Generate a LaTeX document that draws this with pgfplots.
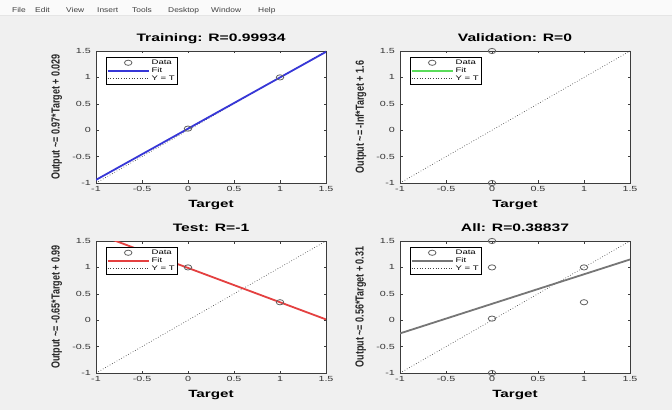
\documentclass[border=0pt]{standalone}
\usepackage{fontspec}
\setmainfont{Liberation Sans}
\usepackage{graphicx}
\usepackage{pgfplots}
\pgfplotsset{compat=1.18}

\definecolor{figbg}{RGB}{240,240,240}
\definecolor{menubg}{RGB}{250,250,250}
\definecolor{fitblue}{RGB}{55,55,215}
\definecolor{fitgreen}{RGB}{90,220,90}
\definecolor{fitred}{RGB}{228,64,64}
\definecolor{fitgray}{RGB}{118,118,118}
\definecolor{axcol}{RGB}{60,60,60}

% screenshot is stretched sideways, so horizontal text is too
\newcommand{\sx}[1]{\scalebox{1.45}[1]{#1}}

\pgfplotsset{
  regplot/.style={
    scale only axis, width=230pt, height=132pt,
    xmin=-1, xmax=1.5, ymin=-1, ymax=1.5,
    xtick={-1,-0.5,0,0.5,1,1.5}, ytick={-1,-0.5,0,0.5,1,1.5},
    xticklabels={-1,-0.5,0,0.5,1,1.5}, yticklabels={-1,-0.5,0,0.5,1,1.5},
    tick align=inside, xtick pos=both, ytick pos=both,
    xticklabel pos=lower, yticklabel pos=left,
    major tick length=2.5pt,
    tick style={axcol, line width=0.5pt},
    axis line style={axcol, line width=0.6pt},
    axis background/.style={fill=white},
    ticklabel style={font=\fontsize{7.4}{8}\selectfont, text=black!80, xscale=1.45},
    title style={at={(axis description cs:0.5,1.03)}, anchor=base,
      font=\fontsize{10.8}{12}\selectfont\bfseries, xscale=1.45},
    xlabel style={at={(axis description cs:0.5,-0.182)}, anchor=base,
      font=\fontsize{10.5}{12}\selectfont\bfseries, xscale=1.45},
    ylabel style={at={(axis description cs:-0.17,0.5)}, anchor=center,
      font=\fontsize{9}{10}\selectfont\bfseries, yscale=1.3, text=black!85},
    xlabel={Target},
    legend style={at={(axis description cs:0.0435,0.955)}, anchor=north west,
      draw=black, line width=0.4pt, fill=white, inner sep=0.6pt, row sep=-2.2pt,
      font=\fontsize{6.6}{7}\selectfont, cells={anchor=west}},
    reverse legend,
  },
  yteq/.style={black!75, line width=0.65pt, dotted,
    legend image code/.code={\draw[##1] (0pt,0pt) -- (41pt,0pt);}},
  fitline/.style={line width=1.8pt, #1,
    legend image code/.code={\draw[##1] (0pt,0pt) -- (41pt,0pt);}},
  datapts/.style={only marks, mark=o, mark size=2.6pt,
    mark options={xscale=1.45, draw=black!62, line width=0.8pt},
    legend image code/.code={\path (0pt,0pt) (41pt,0pt);
      \path[##1, draw=none] plot coordinates {(20.5pt,0pt)};}},
}

\begin{document}
\begin{tikzpicture}[x=1pt,y=1pt]
\fill[figbg] (0,0) rectangle (672,410);
\fill[menubg] (0,395) rectangle (672,410);
\draw[black!10] (0,394.7) -- (672,394.7);
\foreach \t/\xx in {File/12,Edit/35,View/66,Insert/97,Tools/132,Desktop/168,Window/211,Help/258}
  \node[anchor=base west, inner sep=0pt, font=\fontsize{7}{8}\selectfont, text=black!75, xscale=1.2] at (\xx,397.5) {\t};

% Training
\begin{axis}[regplot, at={(96pt,227pt)}, anchor=south west,
  title={Training: R=0.99934}, ylabel={Output \textasciitilde= 0.97*Target + 0.029}]
\addplot[yteq] coordinates {(-1,-1) (1.5,1.5)}; \addlegendentry{\sx{Y = T}}
\addplot[fitline=fitblue] coordinates {(-1,-0.941) (1.5,1.484)}; \addlegendentry{\sx{Fit}}
\addplot[datapts] coordinates {(0,0.03) (1,1)}; \addlegendentry{\sx{Data}}
\end{axis}

% Validation
\begin{axis}[regplot, at={(400pt,227pt)}, anchor=south west,
  title={Validation: R=0}, ylabel={Output \textasciitilde= -Inf*Target + 1.6}]
\addplot[yteq] coordinates {(-1,-1) (1.5,1.5)}; \addlegendentry{\sx{Y = T}}
\addlegendimage{fitline=fitgreen} \addlegendentry{\sx{Fit}}
\addplot[datapts] coordinates {(0,1.5) (0,-1)}; \addlegendentry{\sx{Data}}
\end{axis}

% Test
\begin{axis}[regplot, at={(96pt,37pt)}, anchor=south west,
  title={Test: R=-1}, ylabel={Output \textasciitilde= -0.65*Target + 0.99}]
\addplot[yteq] coordinates {(-1,-1) (1.5,1.5)}; \addlegendentry{\sx{Y = T}}
\addplot[fitline=fitred] coordinates {(-1,1.64) (1.5,0.015)}; \addlegendentry{\sx{Fit}}
\addplot[datapts] coordinates {(0,1) (1,0.34)}; \addlegendentry{\sx{Data}}
\end{axis}

% All
\begin{axis}[regplot, at={(400pt,37pt)}, anchor=south west,
  title={All: R=0.38837}, ylabel={Output \textasciitilde= 0.56*Target + 0.31}]
\addplot[yteq] coordinates {(-1,-1) (1.5,1.5)}; \addlegendentry{\sx{Y = T}}
\addplot[fitline=fitgray] coordinates {(-1,-0.25) (1.5,1.15)}; \addlegendentry{\sx{Fit}}
\addplot[datapts] coordinates {(0,1.5) (0,1) (0,0.03) (0,-1) (1,1) (1,0.34)}; \addlegendentry{\sx{Data}}
\end{axis}

\pgfresetboundingbox
\path[use as bounding box] (0,0) rectangle (672,410);
\end{tikzpicture}
\end{document}
